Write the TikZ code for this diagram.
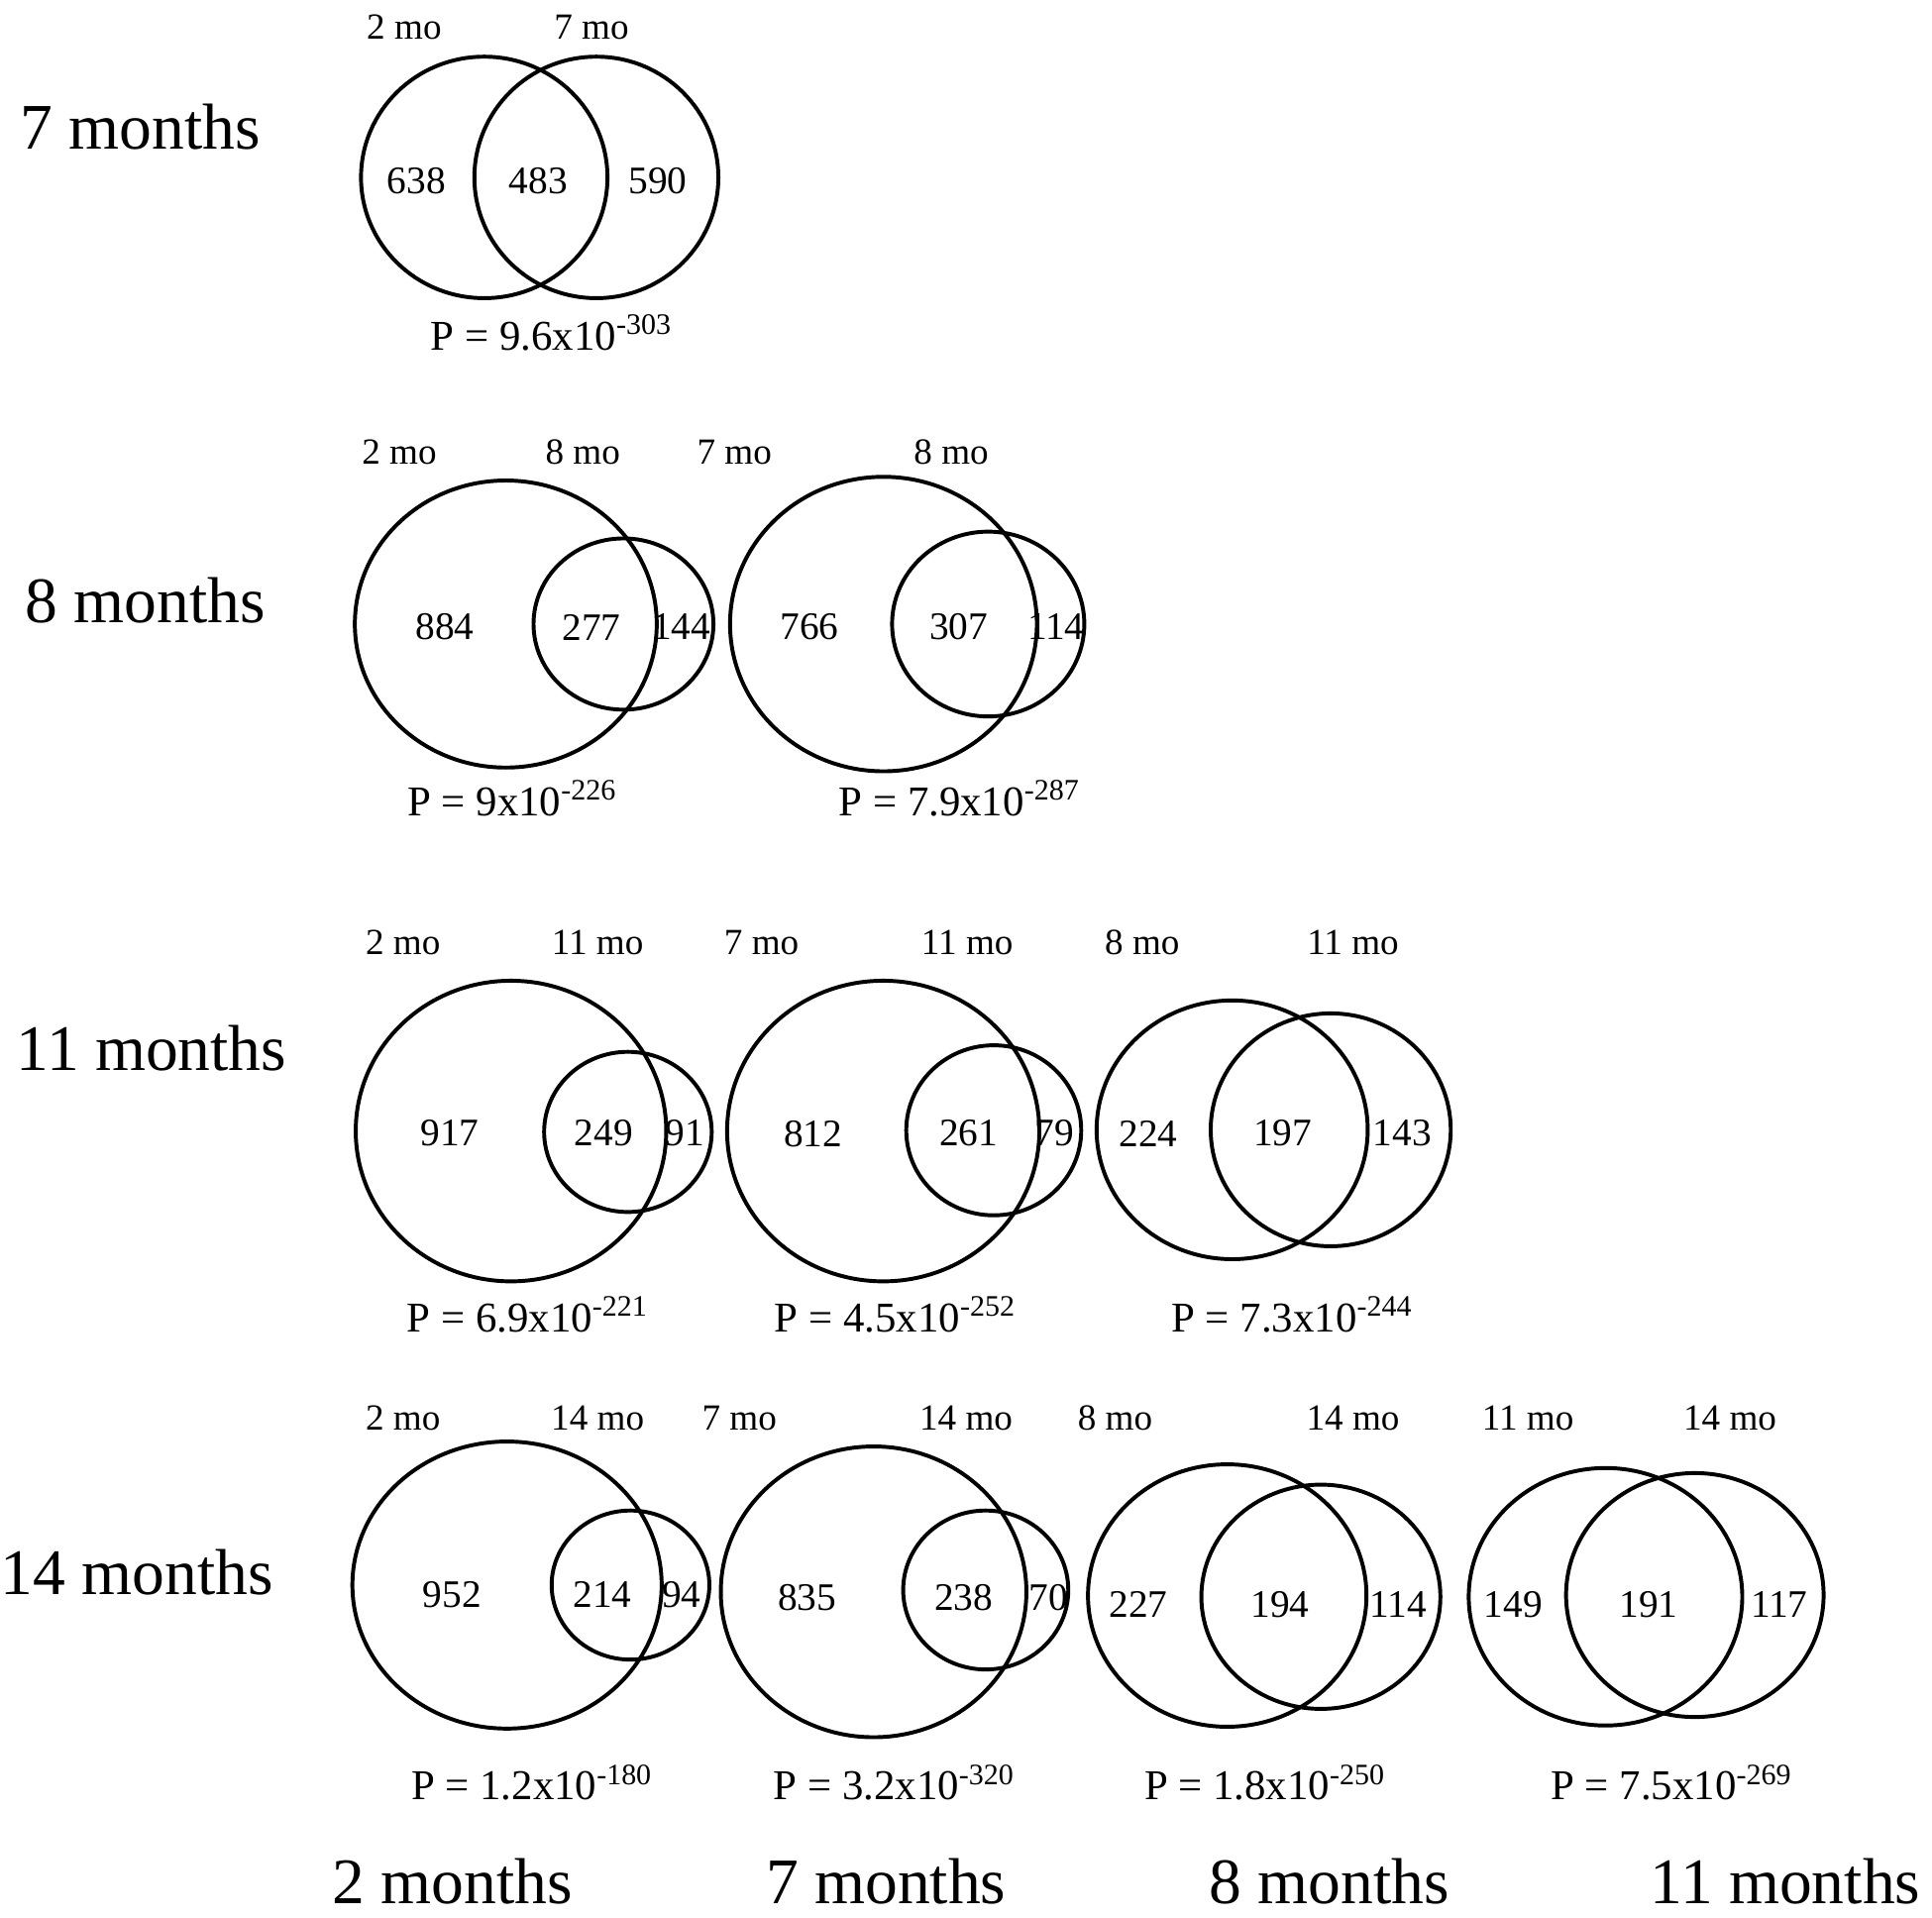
\documentclass[tikz,border=0pt]{standalone}
\usepackage{fontspec}
\setmainfont{Liberation Serif}
\usepackage{tikz}
\usetikzlibrary{positioning}
\tikzset{every node/.append style={align=center, inner sep=0pt}}
\tikzset{
  rowlab/.style={font=\fontsize{15}{18}\selectfont},
  setlab/.style={font=\fontsize{8.5}{10}\selectfont},
  count/.style={font=\fontsize{9}{11}\selectfont},
  pval/.style={font=\fontsize{9.8}{12}\selectfont, anchor=base},
  venn/.style={line width=0.9pt}
}

\begin{document}
\begin{tikzpicture}
    \useasboundingbox (0,0) rectangle (15.68,-15.56);

    % Row labels
    \node[rowlab] (m7)  at (1.14, -1.03) {7 months};
    \node[rowlab] (m8)  at (1.18, -4.87) {8 months};
    \node[rowlab] (m11) at (1.23, -8.51) {11 months};
    \node[rowlab] (m14) at (1.11, -12.76) {14 months};

    % 7 months: 2 mo vs 7 mo
    \node[setlab] (s1a) at (3.28, -0.22) {2 mo};
    \node[setlab] (s1b) at (4.80, -0.22) {7 mo};
    \draw[venn] (3.93, -1.44) ellipse (1.00 and 0.98);
    \draw[venn] (4.84, -1.44) ellipse (0.99 and 0.98);
    \node[count] (c1a) at (3.38, -1.47) {638};
    \node[count] (c1b) at (4.37, -1.47) {483};
    \node[count] (c1c) at (5.34, -1.47) {590};
    \node[pval] (p1) at (4.48, -2.84) {P = 9.6x10\textsuperscript{-303}};

    % 8 months: 2 mo vs 8 mo
    \node[setlab] (s2a) at (3.24, -3.67) {2 mo};
    \node[setlab] (s2b) at (4.73, -3.67) {8 mo};
    \draw[venn] (4.105, -5.065) ellipse (1.225 and 1.165);
    \draw[venn] (5.06, -5.065) ellipse (0.73 and 0.695);
    \node[count] (c2a) at (3.61, -5.09) {884};
    \node[count] (c2b) at (4.80, -5.09) {277};
    \node[count] (c2c) at (5.53, -5.09) {144};
    \node[pval] (p2) at (4.16, -6.62) {P = 9x10\textsuperscript{-226}};

    % 8 months: 7 mo vs 8 mo
    \node[setlab] (s3a) at (5.96, -3.67) {7 mo};
    \node[setlab] (s3b) at (7.72, -3.67) {8 mo};
    \draw[venn] (7.17, -5.065) ellipse (1.245 and 1.195);
    \draw[venn] (8.02, -5.065) ellipse (0.78 and 0.75);
    \node[count] (c3a) at (6.57, -5.09) {766};
    \node[count] (c3b) at (7.78, -5.09) {307};
    \node[count] (c3c) at (8.57, -5.09) {114};
    \node[pval] (p3) at (7.79, -6.62) {P = 7.9x10\textsuperscript{-287}};

    % 11 months: 2 mo vs 11 mo
    \node[setlab] (s4a) at (3.27, -7.65) {2 mo};
    \node[setlab] (s4b) at (4.85, -7.65) {11 mo};
    \draw[venn] (4.147, -9.18) ellipse (1.26 and 1.22);
    \draw[venn] (5.096, -9.187) ellipse (0.68 and 0.65);
    \node[count] (c4a) at (3.65, -9.20) {917};
    \node[count] (c4b) at (4.90, -9.20) {249};
    \node[count] (c4c) at (5.56, -9.20) {91};
    \node[pval] (p4) at (4.285, -10.81) {P = 6.9x10\textsuperscript{-221}};

    % 11 months: 7 mo vs 11 mo
    \node[setlab] (s5a) at (6.18, -7.65) {7 mo};
    \node[setlab] (s5b) at (7.85, -7.65) {11 mo};
    \draw[venn] (7.168, -9.18) ellipse (1.267 and 1.22);
    \draw[venn] (8.065, -9.174) ellipse (0.71 and 0.69);
    \node[count] (c5a) at (6.60, -9.20) {812};
    \node[count] (c5b) at (7.86, -9.20) {261};
    \node[count] (c5c) at (8.56, -9.20) {79};
    \node[pval] (p5) at (7.27, -10.81) {P = 4.5x10\textsuperscript{-252}};

    % 11 months: 8 mo vs 11 mo
    \node[setlab] (s6a) at (9.27, -7.65) {8 mo};
    \node[setlab] (s6b) at (10.98, -7.65) {11 mo};
    \draw[venn] (10.00, -9.17) ellipse (1.10 and 1.05);
    \draw[venn] (10.80, -9.17) ellipse (0.974 and 0.945);
    \node[count] (c6a) at (9.32, -9.20) {224};
    \node[count] (c6b) at (10.41, -9.20) {197};
    \node[count] (c6c) at (11.38, -9.20) {143};
    \node[pval] (p6) at (10.49, -10.81) {P = 7.3x10\textsuperscript{-244}};

    % 14 months: 2 mo vs 14 mo
    \node[setlab] (s7a) at (3.27, -11.51) {2 mo};
    \node[setlab] (s7b) at (4.85, -11.51) {14 mo};
    \draw[venn] (4.115, -12.865) ellipse (1.255 and 1.165);
    \draw[venn] (5.117, -12.865) ellipse (0.64 and 0.605);
    \node[count] (c7a) at (3.67, -12.94) {952};
    \node[count] (c7b) at (4.89, -12.94) {214};
    \node[count] (c7c) at (5.53, -12.94) {94};
    \node[pval] (p7) at (4.32, -14.61) {P = 1.2x10\textsuperscript{-180}};

    % 14 months: 7 mo vs 14 mo
    \node[setlab] (s8a) at (6.00, -11.51) {7 mo};
    \node[setlab] (s8b) at (7.84, -11.51) {14 mo};
    \draw[venn] (7.09, -12.92) ellipse (1.24 and 1.18);
    \draw[venn] (8.00, -12.905) ellipse (0.67 and 0.645);
    \node[count] (c8a) at (6.55, -12.97) {835};
    \node[count] (c8b) at (7.82, -12.97) {238};
    \node[count] (c8c) at (8.51, -12.97) {70};
    \node[pval] (p8) at (7.26, -14.61) {P = 3.2x10\textsuperscript{-320}};

    % 14 months: 8 mo vs 14 mo
    \node[setlab] (s9a) at (9.05, -11.51) {8 mo};
    \node[setlab] (s9b) at (10.98, -11.51) {14 mo};
    \draw[venn] (9.96, -12.95) ellipse (1.13 and 1.065);
    \draw[venn] (10.72, -12.96) ellipse (0.97 and 0.91);
    \node[count] (c9a) at (9.24, -13.02) {227};
    \node[count] (c9b) at (10.39, -13.02) {194};
    \node[count] (c9c) at (11.35, -13.02) {114};
    \node[pval] (p9) at (10.27, -14.61) {P = 1.8x10\textsuperscript{-250}};

    % 14 months: 11 mo vs 14 mo
    \node[setlab] (s10a) at (12.40, -11.51) {11 mo};
    \node[setlab] (s10b) at (14.04, -11.51) {14 mo};
    \draw[venn] (13.03, -12.96) ellipse (1.11 and 1.045);
    \draw[venn] (13.755, -12.946) ellipse (1.045 and 0.99);
    \node[count] (c10a) at (12.28, -13.02) {149};
    \node[count] (c10b) at (13.38, -13.02) {191};
    \node[count] (c10c) at (14.44, -13.02) {117};
    \node[pval] (p10) at (13.57, -14.61) {P = 7.5x10\textsuperscript{-269}};

    % Column labels
    \node[rowlab] (b2)  at (3.67, -15.27) {2 months};
    \node[rowlab] (b7)  at (7.19, -15.27) {7 months};
    \node[rowlab] (b8)  at (10.79, -15.27) {8 months};
    \node[rowlab] (b11) at (14.49, -15.27) {11 months};
\end{tikzpicture}
\end{document}
